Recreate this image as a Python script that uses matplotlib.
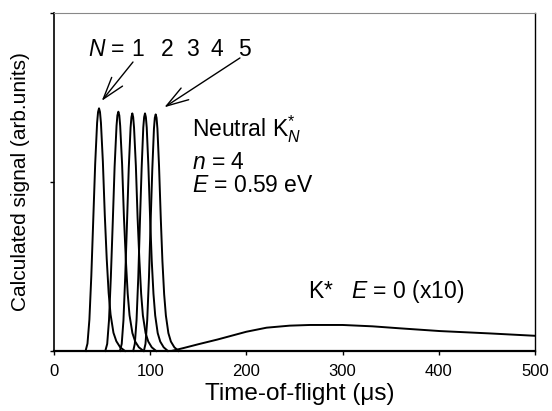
import matplotlib
matplotlib.use("Agg")
import matplotlib.pyplot as plt

plt.rcParams['font.family'] = ['Liberation Sans', 'DejaVu Sans']
plt.rcParams['mathtext.fontset'] = 'custom'
plt.rcParams['mathtext.rm'] = 'Liberation Sans'
plt.rcParams['mathtext.it'] = 'Liberation Sans:italic'

# time-of-flight (us) and calculated signal for neutral K_N*, N = 1..5
t_n1 = [32.8, 34.8, 36.8, 38.8, 40.8, 42.8, 44.8, 45.8, 46.8, 47.8, 48.8, 50.8, 52.8, 54.8, 56.8, 58.8, 61.8, 64.8, 68.8, 73.8]
s_n1 = [0, 0.022, 0.093, 0.223, 0.388, 0.553, 0.675, 0.707, 0.718, 0.707, 0.675, 0.560, 0.402, 0.273, 0.172, 0.108, 0.054, 0.029, 0.011, 0]
t_n2 = [53.3, 55.3, 57.2, 59.1, 61.1, 63.0, 65.0, 65.9, 66.9, 67.9, 68.8, 70.8, 72.7, 74.7, 76.6, 78.5, 81.5, 84.4, 88.2, 93.1]
s_n2 = [0, 0.021, 0.092, 0.219, 0.382, 0.545, 0.666, 0.697, 0.708, 0.697, 0.666, 0.552, 0.396, 0.269, 0.170, 0.106, 0.053, 0.028, 0.011, 0]
t_n3 = [68.5, 70.4, 72.2, 74.0, 75.9, 77.7, 79.6, 80.5, 81.4, 82.3, 83.2, 85.1, 86.9, 88.8, 90.6, 92.4, 95.2, 98.0, 101.6, 106.2]
s_n3 = [0, 0.021, 0.091, 0.218, 0.380, 0.541, 0.661, 0.692, 0.703, 0.692, 0.661, 0.548, 0.394, 0.267, 0.169, 0.105, 0.053, 0.028, 0.011, 0]
t_n4 = [82.3, 84.0, 85.8, 87.6, 89.3, 91.1, 92.8, 93.7, 94.6, 95.5, 96.4, 98.1, 99.9, 101.6, 103.4, 105.2, 107.8, 110.4, 114.0, 118.4]
s_n4 = [0, 0.021, 0.091, 0.218, 0.380, 0.541, 0.661, 0.692, 0.703, 0.692, 0.661, 0.548, 0.394, 0.267, 0.169, 0.105, 0.053, 0.028, 0.011, 0]
t_n5 = [93.4, 95.1, 96.9, 98.7, 100.4, 102.2, 103.9, 104.8, 105.7, 106.6, 107.5, 109.2, 111.0, 112.7, 114.5, 116.3, 118.9, 121.5, 125.1, 129.5]
s_n5 = [0, 0.021, 0.091, 0.217, 0.378, 0.539, 0.658, 0.690, 0.700, 0.690, 0.658, 0.546, 0.392, 0.266, 0.168, 0.105, 0.053, 0.028, 0.011, 0]

# K* atoms, E = 0, scaled x10
t_k = [0, 122, 135, 150, 170, 200, 221, 245, 266, 300, 331, 360, 401, 453, 500]
s_k = [0, 0, 0.009, 0.020, 0.034, 0.057, 0.069, 0.075, 0.077, 0.077, 0.073, 0.067, 0.059, 0.052, 0.045]

n_labels = ['1', '2', '3', '4', '5']
n_label_x = [87.3, 117.5, 143.5, 169.4, 198.5]
x_ticks = [0, 100, 200, 300, 400, 500]

fig = plt.figure(figsize=(5.52, 4.11), dpi=100)
ax = fig.add_axes([54/552, 60/411, 481/552, 338/411])

for t, s in [(t_n1, s_n1), (t_n2, s_n2), (t_n3, s_n3), (t_n4, s_n4), (t_n5, s_n5), (t_k, s_k)]:
    ax.plot(t, s, color='black', lw=1.4, clip_on=False)

ax.set_xlim(0, 500)
ax.set_ylim(0, 1)
ax.set_xticks(x_ticks)
ax.set_yticks([0, 0.5, 1])
ax.set_yticklabels([])
ax.tick_params(direction='out', length=3, width=1, labelsize=12, pad=6)

ax.spines['left'].set_linewidth(1.2)
ax.spines['bottom'].set_linewidth(1.6)
ax.spines['right'].set_linewidth(1.0)
ax.spines['top'].set_linewidth(0.8)
ax.spines['top'].set_color('#888888')

fs = 16.5
ax.text(35.3, 0.873, '$N$ =', fontsize=fs, va='baseline', ha='left')
for lab, x in zip(n_labels, n_label_x):
    ax.text(x, 0.873, lab, fontsize=fs, va='baseline', ha='center')

arrow = dict(arrowstyle='->,head_length=0.8,head_width=0.25', lw=1.0, color='black',
             shrinkA=0, shrinkB=0, mutation_scale=20)
ax.annotate('', xy=(49.6, 0.740), xytext=(82.1, 0.855), arrowprops=arrow)
ax.annotate('', xy=(114.7, 0.721), xytext=(193.3, 0.867), arrowprops=arrow)

ax.text(143.1, 0.634, 'Neutral K$_{N}^{*}$', fontsize=fs, va='baseline')
ax.text(143.1, 0.538, '$n$ = 4', fontsize=fs, va='baseline')
ax.text(143.1, 0.471, '$E$ = 0.59 eV', fontsize=fs, va='baseline')
ax.text(264.3, 0.156, 'K*   $E$ = 0 (x10)', fontsize=fs, va='baseline')

fig.text(299.5/552, 11/411, 'Time-of-flight (\u03bcs)', fontsize=17.5, ha='center', va='baseline')
fig.text(21/552, 229/411, 'Calculated signal (arb.units)', fontsize=15, ha='center', va='center', rotation=90)

fig.savefig('out.png', dpi=100)
